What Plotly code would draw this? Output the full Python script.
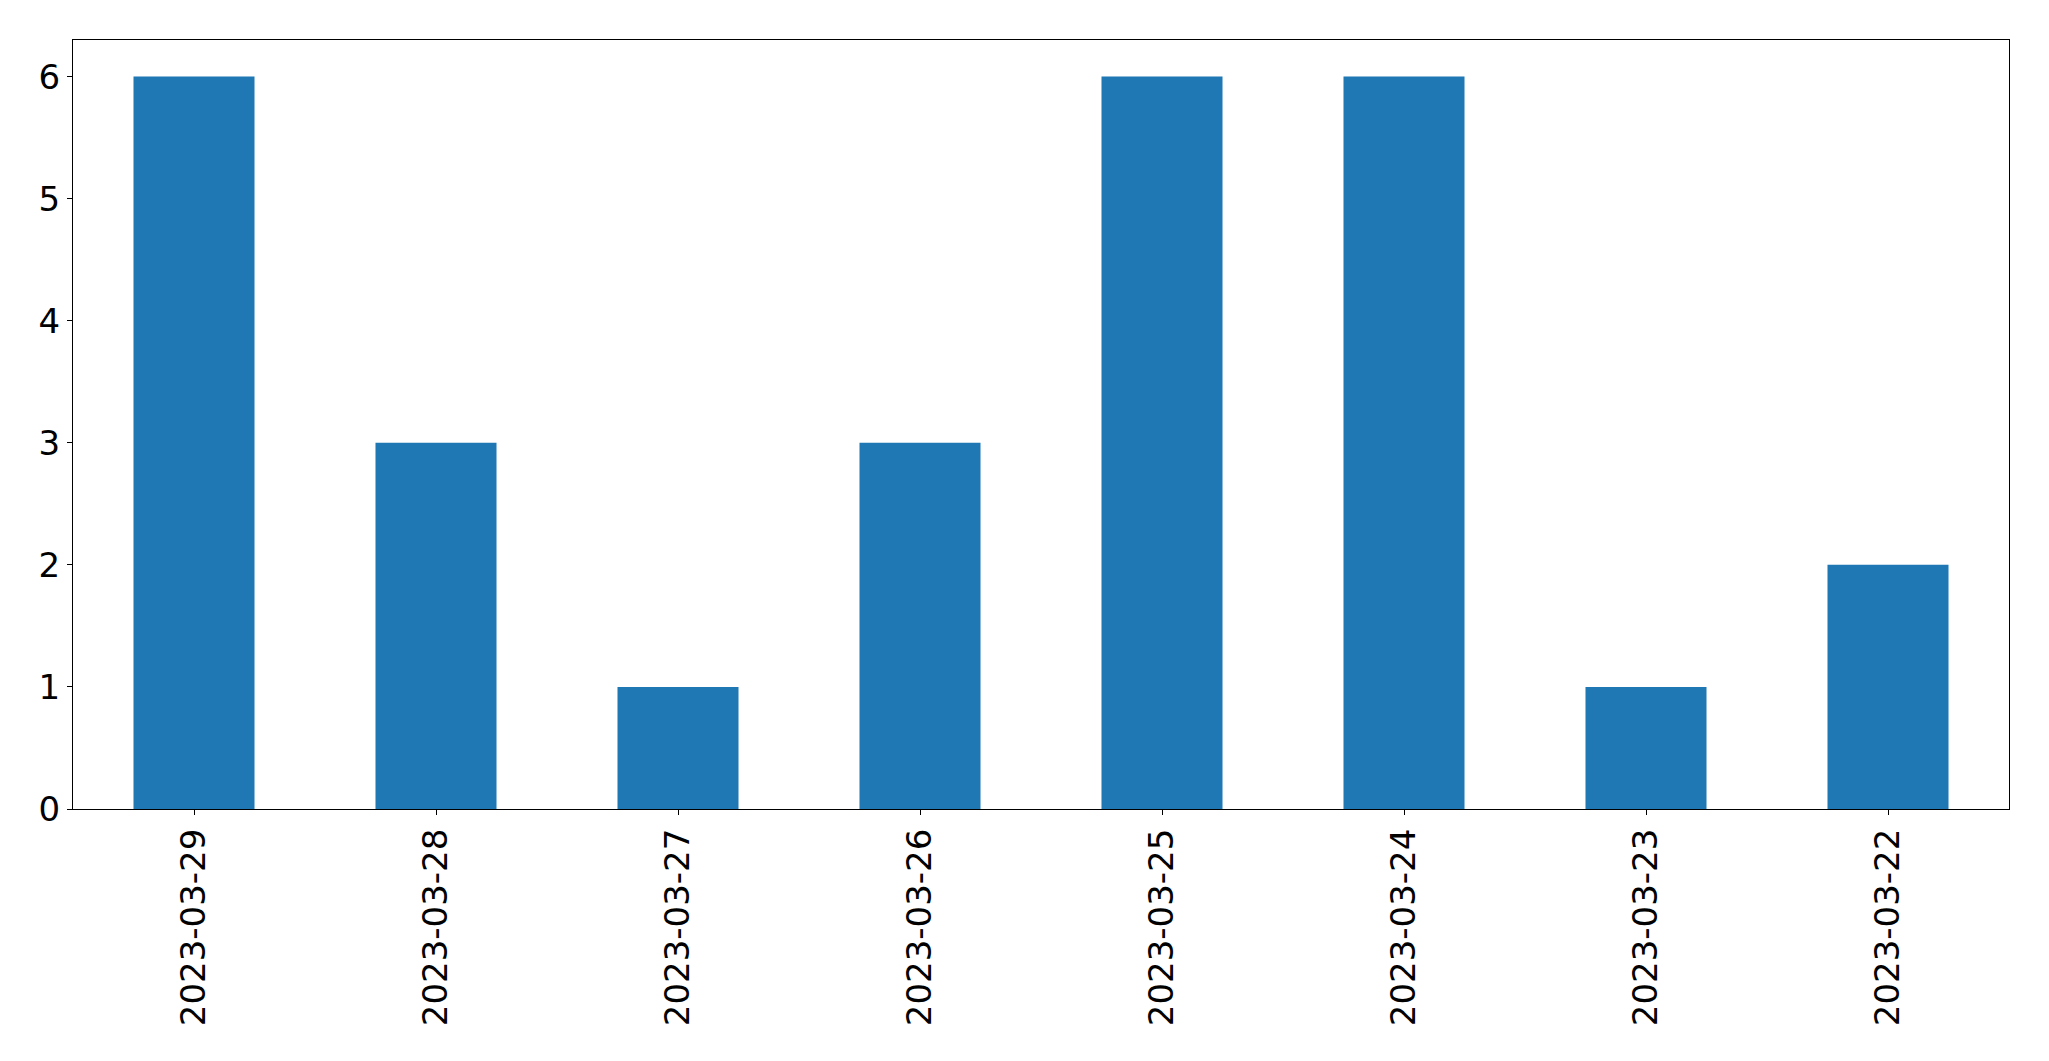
import plotly.graph_objects as go

dates = ["2023-03-29", "2023-03-28", "2023-03-27", "2023-03-26",
         "2023-03-25", "2023-03-24", "2023-03-23", "2023-03-22"]
counts = [6, 3, 1, 3, 6, 6, 1, 2]
y_ticks = [0, 1, 2, 3, 4, 5, 6]

fig = go.Figure(go.Bar(x=dates, y=counts, width=0.5, marker_color="#1f77b4",
                       marker_line_width=0))

axis_common = dict(showline=True, linecolor="black", linewidth=1.1, mirror=True,
                   ticks="outside", ticklen=5, tickwidth=1.1, tickcolor="black",
                   showgrid=False, zeroline=False,
                   tickfont=dict(family="DejaVu Sans", size=34, color="black"))

# page body has an 8px default margin, so the figure is sized to fit inside it
fig.update_layout(
    width=2033, height=1045,
    margin=dict(l=64.5, r=31.5, t=31.5, b=244, pad=0),
    plot_bgcolor="white", paper_bgcolor="white",
    showlegend=False,
    xaxis=dict(type="category", tickangle=-90, range=[-0.5, 7.5], **axis_common),
    yaxis=dict(range=[0, 6.3], tickvals=y_ticks, ticktext=[str(v) for v in y_ticks],
               **axis_common),
)

fig.write_html("out.html")
